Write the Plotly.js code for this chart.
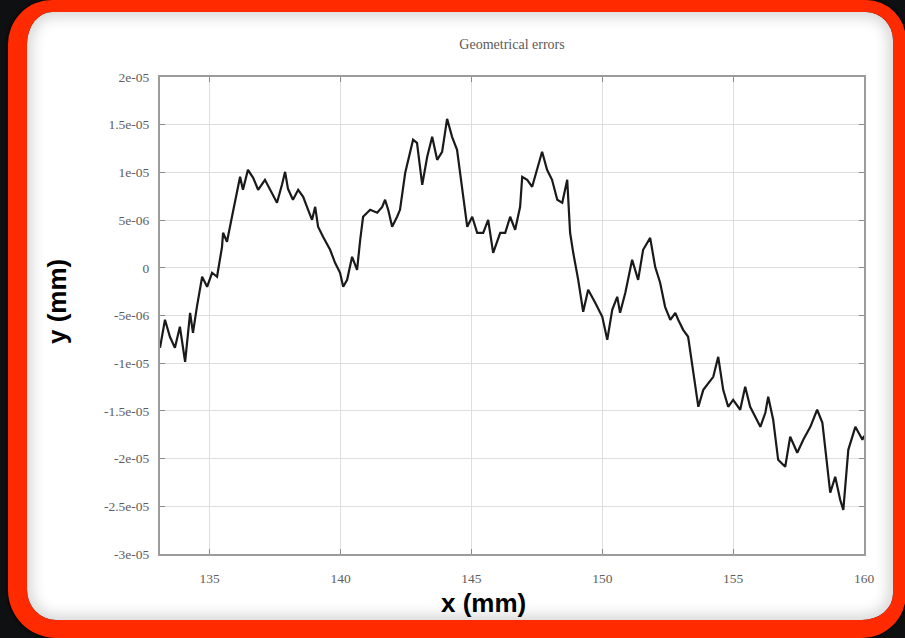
<!DOCTYPE html>
<html><head><meta charset="utf-8">
<script src="https://cdn.plot.ly/plotly-3.0.1.min.js"></script>
<style>
html,body{margin:0;padding:0;width:905px;height:638px;overflow:hidden;background:#0e1011;}
#frame{position:absolute;left:8px;top:0px;width:866px;height:608px;border-style:solid;border-color:#ff2a00;border-width:12px 13px 18px 19px;border-radius:44px 40px 44px 48px;background:#fff;background-clip:padding-box;box-shadow:inset 0 0 14px 5px rgba(0,0,0,0.16), 0 0 3px 1px rgba(0,0,0,0.6);}
#chart{position:absolute;left:0;top:0;width:905px;height:638px;}
</style>
</head><body>
<div id="frame"></div>
<div id="chart"></div>
<script>
// x position (mm)
const xPos = [133.10,133.29,133.48,133.67,133.86,134.06,134.25,134.36,134.51,134.71,134.90,135.09,135.28,135.47,135.51,135.66,135.85,136.04,136.16,136.27,136.46,136.66,136.85,137.11,137.38,137.57,137.76,137.88,137.99,138.18,138.38,138.57,138.76,138.91,139.03,139.14,139.33,139.60,139.79,139.98,140.10,140.25,140.44,140.63,140.75,140.86,141.13,141.40,141.59,141.70,141.82,141.97,142.16,142.27,142.47,142.58,142.77,142.92,143.12,143.31,143.50,143.69,143.88,144.07,144.26,144.45,144.64,144.84,145.03,145.22,145.45,145.64,145.83,146.10,146.29,146.48,146.67,146.86,146.94,147.13,147.32,147.51,147.70,147.89,148.08,148.28,148.47,148.66,148.77,148.89,149.08,149.27,149.46,149.73,150.00,150.19,150.38,150.57,150.68,150.88,151.14,151.37,151.56,151.83,152.02,152.21,152.40,152.60,152.79,152.90,153.09,153.28,153.47,153.67,153.86,154.05,154.24,154.43,154.62,154.81,155.00,155.27,155.46,155.65,155.85,156.04,156.23,156.34,156.53,156.72,156.99,157.18,157.45,157.68,157.95,158.21,158.41,158.52,158.71,158.90,159.09,159.21,159.40,159.67,159.94,160.00];
// geometrical error, in units of 1e-6 mm
const yErrMicro = [-8.39,-5.45,-7.23,-8.39,-6.18,-9.85,-4.72,-6.81,-4.09,-0.94,-1.99,-0.52,-0.94,2.20,3.67,2.73,5.35,7.86,9.54,8.18,10.27,9.43,8.18,9.22,7.86,6.81,8.70,10.06,8.28,7.13,8.18,7.44,6.08,5.03,6.39,4.30,3.25,1.89,0.52,-0.52,-1.99,-1.26,1.15,-0.21,2.94,5.35,6.08,5.77,6.39,7.13,6.08,4.30,5.35,6.08,9.96,11.32,13.42,13.10,8.70,11.64,13.73,11.32,12.16,15.62,13.73,12.37,8.18,4.30,5.35,3.67,3.67,5.03,1.57,3.67,3.67,5.35,3.98,6.39,9.54,9.22,8.49,10.27,12.16,10.27,9.22,7.13,6.81,9.22,3.67,1.57,-1.26,-4.61,-2.31,-3.67,-5.14,-7.55,-4.40,-3.04,-4.72,-2.62,0.84,-1.26,1.89,3.14,0.10,-1.57,-4.09,-5.45,-4.72,-5.45,-6.50,-7.23,-11.01,-14.57,-12.79,-12.05,-11.43,-9.33,-12.79,-14.57,-13.84,-14.88,-12.47,-14.57,-15.62,-16.67,-15.20,-13.52,-15.93,-20.13,-20.86,-17.71,-19.39,-18.03,-16.67,-14.88,-16.25,-18.76,-23.58,-21.91,-24.32,-25.37,-19.08,-16.67,-18.03,-17.61];
const MICRO = 1e-6;

const xTickVals = [135,140,145,150,155,160];
const xTickText = ['135','140','145','150','155','160'];
const yTickVals = [2e-5,1.5e-5,1e-5,5e-6,0,-5e-6,-1e-5,-1.5e-5,-2e-5,-2.5e-5,-3e-5];
const yTickText = ['2e-05','1.5e-05','1e-05','5e-06','0','-5e-06','-1e-05','-1.5e-05','-2e-05','-2.5e-05','-3e-05'];

const tickFont = {family:'Liberation Serif, serif', size:13.5, color:'#5e5e5e'};
const axisCommon = {
  showgrid:true, gridcolor:'#dedede', gridwidth:1,
  showline:true, linecolor:'#9c9c9c', linewidth:2, mirror:'ticks',
  ticks:'inside', ticklen:5, tickwidth:1, tickcolor:'#8a8a8a',
  tickfont:tickFont, zeroline:false, tickmode:'array'
};

const trace = {
  x: xPos,
  y: yErrMicro.map(v => v*MICRO),
  type:'scatter', mode:'lines',
  line:{color:'#1a1a1a', width:2.2},
  hoverinfo:'skip'
};

const layout = {
  width:905, height:638,
  margin:{l:160, r:41, t:77, b:84},
  paper_bgcolor:'rgba(0,0,0,0)', plot_bgcolor:'#ffffff',
  showlegend:false,
  title:{text:'Geometrical errors', font:{family:'Liberation Serif, serif', size:14, color:'#5a5a5a'},
         xref:'paper', x:0.5, xanchor:'center', yref:'container', y:1-44/638, yanchor:'middle'},
  xaxis:Object.assign({}, axisCommon, {range:[133.1,160], tickvals:xTickVals, ticktext:xTickText, ticklabelstandoff:11}),
  yaxis:Object.assign({}, axisCommon, {range:[-3e-5,2e-5], tickvals:yTickVals, ticktext:yTickText, ticklabelstandoff:6}),
  annotations:[
    {text:'<b>x (mm)</b>', xref:'paper', yref:'paper', x:(483-160)/704, y:(554-603)/477,
     xanchor:'center', yanchor:'middle', showarrow:false,
     font:{family:'Liberation Sans, Arial, sans-serif', size:26, color:'#000'}},
    {text:'<b>y (mm)</b>', xref:'paper', yref:'paper', x:(57-160)/704, y:(554-302)/477,
     xanchor:'center', yanchor:'middle', showarrow:false, textangle:-90,
     font:{family:'Liberation Sans, Arial, sans-serif', size:26, color:'#000'}}
  ]
};

Plotly.newPlot('chart', [trace], layout, {displayModeBar:false, staticPlot:true});
</script>
</body></html>
